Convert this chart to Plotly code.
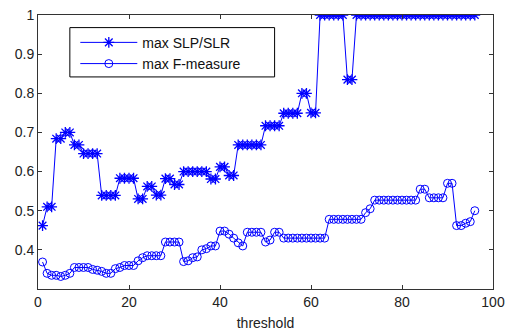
import plotly.graph_objects as go

threshold = list(range(1, 97))

slp_slr = (
    [0.462, 0.51, 0.51, 0.684, 0.684, 0.70, 0.70, 0.668, 0.668]
    + [0.646] * 4
    + [0.539] * 4
    + [0.583] * 4
    + [0.53, 0.53, 0.562, 0.562, 0.54, 0.54, 0.582, 0.582, 0.567, 0.567]
    + [0.60] * 6
    + [0.581, 0.581, 0.612, 0.612, 0.59, 0.59]
    + [0.668] * 6
    + [0.717] * 4
    + [0.749] * 4
    + [0.80, 0.80, 0.75, 0.75]
    + [1.0] * 6
    + [0.835, 0.835]
    + [1.0] * 27
)

f_measure = (
    [0.369, 0.34, 0.335, 0.335, 0.332, 0.335, 0.34, 0.355, 0.355, 0.355,
     0.355, 0.35, 0.348, 0.345, 0.34, 0.34, 0.352, 0.355, 0.36, 0.36,
     0.36, 0.372, 0.38, 0.385, 0.385, 0.385, 0.385, 0.42, 0.42, 0.42,
     0.42, 0.37, 0.372, 0.38, 0.382, 0.40, 0.403, 0.41, 0.41, 0.448,
     0.448, 0.44, 0.43, 0.418, 0.41, 0.445, 0.445, 0.445, 0.445, 0.42,
     0.425, 0.445, 0.445]
    + [0.43] * 10
    + [0.478] * 8
    + [0.495, 0.505]
    + [0.527] * 10
    + [0.555, 0.555, 0.533, 0.533, 0.533, 0.533, 0.57, 0.57,
       0.462, 0.462, 0.468, 0.472, 0.50]
)

x_tick_step = 20
y_ticks = [0.4, 0.5, 0.6, 0.7, 0.8, 0.9, 1.0]
y_tick_labels = ["0.4", "0.5", "0.6", "0.7", "0.8", "0.9", "1"]

blue = "#0000ff"
font_family = "Liberation Sans, Arial"
text_color = "#222222"

fig = go.Figure()
fig.add_trace(go.Scatter(
    x=threshold, y=slp_slr, mode="lines+markers", name="max SLP/SLR",
    line=dict(color=blue, width=1),
    marker=dict(symbol="asterisk-open", size=9, color=blue,
                line=dict(color=blue, width=1.3)),
))
fig.add_trace(go.Scatter(
    x=threshold, y=f_measure, mode="lines+markers", name="max F-measure",
    line=dict(color=blue, width=1),
    marker=dict(symbol="circle-open", size=8, color=blue,
                line=dict(color=blue, width=1)),
))

axis_common = dict(
    showgrid=False, zeroline=False, showline=True, linecolor="#333333",
    linewidth=1, mirror="ticks", ticks="inside", ticklen=4, automargin=False,
    ticklabeloverflow="allow",
    tickcolor="#333333", tickfont=dict(family=font_family, size=14, color=text_color),
)
fig.update_xaxes(range=[0, 100], tickmode="linear", tick0=0, dtick=x_tick_step,
                 title=dict(text="threshold", font=dict(family=font_family, size=14, color=text_color), standoff=9),
                 **axis_common)
fig.update_yaxes(range=[0.3, 1.0], tickvals=y_ticks, ticktext=y_tick_labels,
                 **axis_common)

# legend frame
fig.add_shape(type="rect", xref="paper", yref="paper",
              x0=0.07, x1=0.52, y0=0.774, y1=0.954,
              line=dict(color="black", width=1), fillcolor="white", layer="above")

fig.update_layout(
    width=507, height=334,
    margin=dict(l=38, r=14, t=15, b=45, autoexpand=False),
    paper_bgcolor="white", plot_bgcolor="white",
    showlegend=True,
    legend=dict(x=0.082, y=0.957, xanchor="left", yanchor="top",
                bgcolor="rgba(0,0,0,0)", borderwidth=0,
                font=dict(family=font_family, size=14, color="#111111"),
                itemwidth=57, tracegroupgap=0),
)

fig.write_html("out.html", config={"displayModeBar": False},
               post_script="document.body.style.margin='0px';")
